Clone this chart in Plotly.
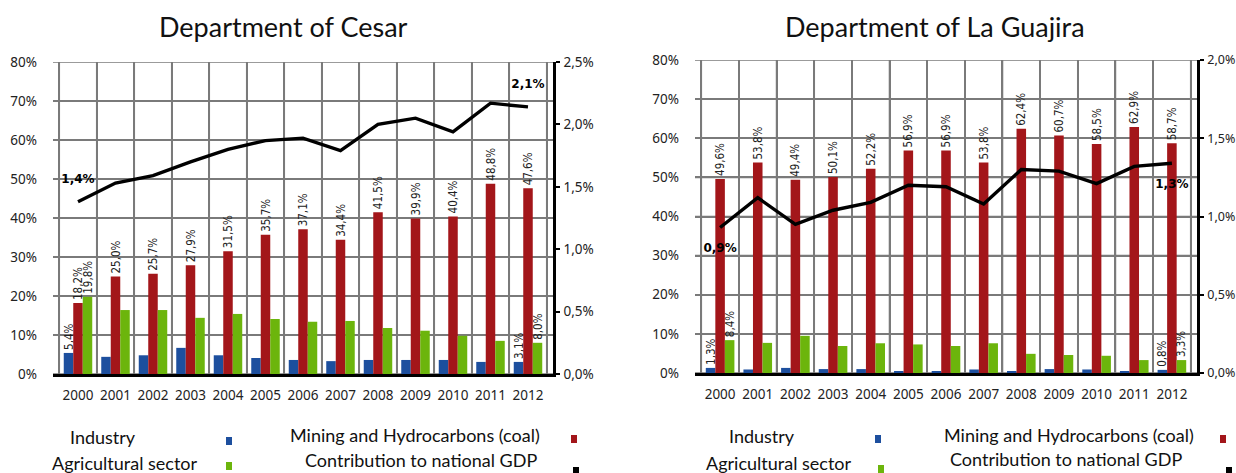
import plotly.graph_objects as go

W, H = 1236, 473

years = [str(y) for y in range(2000, 2013)]

# Department of Cesar (% of departmental GDP)
cesar_industry = [5.4, 4.4, 4.8, 6.7, 4.8, 4.1, 3.6, 3.3, 3.6, 3.6, 3.6, 3.1, 3.1]
cesar_mining = [18.2, 25.0, 25.7, 27.9, 31.5, 35.7, 37.1, 34.4, 41.5, 39.9, 40.4, 48.8, 47.6]
cesar_agri = [19.8, 16.4, 16.4, 14.4, 15.4, 14.1, 13.4, 13.6, 11.8, 11.1, 9.8, 8.5, 8.0]
cesar_gdp = [1.38, 1.53, 1.59, 1.70, 1.80, 1.87, 1.89, 1.79, 2.00, 2.05, 1.94, 2.17, 2.14]

# Department of La Guajira
guaj_industry = [1.3, 0.9, 1.3, 1.0, 1.0, 0.5, 0.5, 0.9, 0.5, 1.0, 0.9, 0.5, 0.8]
guaj_mining = [49.6, 53.8, 49.4, 50.1, 52.2, 56.9, 56.9, 53.8, 62.4, 60.7, 58.5, 62.9, 58.7]
guaj_agri = [8.4, 7.7, 9.5, 6.9, 7.6, 7.3, 6.9, 7.6, 4.9, 4.6, 4.4, 3.3, 3.3]
guaj_gdp = [0.93, 1.12, 0.95, 1.04, 1.09, 1.20, 1.19, 1.08, 1.30, 1.29, 1.21, 1.32, 1.34]

left_ticks = [0, 10, 20, 30, 40, 50, 60, 70, 80]
left_ticktext = ["0%", "10%", "20%", "30%", "40%", "50%", "60%", "70%", "80%"]
cesar_rticks = [0.0, 0.5, 1.0, 1.5, 2.0, 2.5]
cesar_rticktext = ["0,0%", "0,5%", "1,0%", "1,5%", "2,0%", "2,5%"]
guaj_rticks = [0.0, 0.5, 1.0, 1.5, 2.0]
guaj_rticktext = ["0,0%", "0,5%", "1,0%", "1,5%", "2,0%"]

titles = ["Department of Cesar", "Department of La Guajira"]
legend_names = ["Industry", "Mining and Hydrocarbons (coal)", "Agricultural sector", "Contribution to national GDP"]

C_BLUE = "#1d4f9e"
C_RED = "#a3161a"
C_GREEN = "#6cb50c"


def fmt(v):
    return f"{v:.1f}%".replace(".", ",")


def edge_labels(vals):
    return [fmt(v) if i in (0, len(vals) - 1) else "" for i, v in enumerate(vals)]


def px_x(p):
    return p / W


def px_y(p):
    return 1 - p / H


fig = go.Figure()

panels = [
    dict(ind=cesar_industry, mn=cesar_mining, ag=cesar_agri, gdp=cesar_gdp, xa="x", ya="y", ya2="y2",
         gdp_pos=["top center"] + ["middle center"] * 11 + ["top center"], below=False),
    dict(ind=guaj_industry, mn=guaj_mining, ag=guaj_agri, gdp=guaj_gdp, xa="x2", ya="y3", ya2="y4",
         gdp_pos=["bottom center"] + ["middle center"] * 11 + ["bottom center"], below=True),
]

bar_font = dict(family="DejaVu Sans Condensed, DejaVu Sans", size=11.5, color="#222")

for p in panels:
    for vals, color, lab in [(p["ind"], C_BLUE, edge_labels(p["ind"])),
                             (p["mn"], C_RED, [fmt(v) for v in p["mn"]]),
                             (p["ag"], C_GREEN, edge_labels(p["ag"]))]:
        fig.add_trace(go.Bar(
            x=years, y=vals, xaxis=p["xa"], yaxis=p["ya"], marker=dict(color=color, line=dict(width=0)),
            text=lab, textposition="outside", textangle=-90, textfont=bar_font,
            constraintext="none", cliponaxis=False, showlegend=False, hoverinfo="skip",
        ))
    n = len(p["gdp"])
    gdp_text = []
    for i, v in enumerate(p["gdp"]):
        if i in (0, n - 1):
            t = fmt(v)
            gdp_text.append("<br>" + t if p["below"] else t + "<br> ")
        else:
            gdp_text.append("")
    fig.add_trace(go.Scatter(
        x=years, y=p["gdp"], xaxis=p["xa"], yaxis=p["ya2"], mode="lines+text",
        line=dict(color="black", width=3.4), text=gdp_text, textposition=p["gdp_pos"],
        textfont=dict(family="DejaVu Sans", size=12, color="black", weight="bold"),
        cliponaxis=False, showlegend=False, hoverinfo="skip",
    ))

grid_col = "#7a7a7a"
tick_font = dict(family="Noto Sans", size=13.5, color="#222")
tick_font_r = dict(family="Noto Sans", size=12.5, color="#222")

xdom_l = [px_x(53), px_x(553)]
xdom_r = [px_x(695), px_x(1197)]
ydom_l = [px_y(374), px_y(62)]
ydom_r = [px_y(373), px_y(60)]

xcommon = dict(type="category", tickson="boundaries", showgrid=True, gridcolor=grid_col, gridwidth=1.6,
               ticks="", showline=True, linecolor="black", linewidth=3, tickangle=0, automargin=False,
               tickfont=dict(family="Noto Sans", size=13.5, color="#222"), ticklabelstandoff=7, fixedrange=True)
ycommon = dict(range=[0, 80], tickvals=left_ticks, ticktext=left_ticktext, showgrid=True, gridcolor=grid_col,
               gridwidth=1.6, zeroline=False, showline=False, ticks="", tickfont=tick_font,
               ticklabelstandoff=15, automargin=False)
y2common = dict(side="right", showgrid=False, zeroline=False, showline=True, linecolor="black", linewidth=2.5,
                ticks="outside", ticklen=4, tickwidth=2, tickcolor="black",
                ticklabelstandoff=1, automargin=False)

fig.update_layout(
    width=W, height=H, margin=dict(l=0, r=0, t=0, b=0, autoexpand=False),
    paper_bgcolor="white", plot_bgcolor="rgba(0,0,0,0)",
    barmode="group", bargap=0.24, bargroupgap=0,
    showlegend=False,
    xaxis=dict(domain=xdom_l, anchor="y", **xcommon),
    yaxis=dict(domain=ydom_l, anchor="x", **ycommon),
    yaxis2=dict(domain=ydom_l, anchor="x", overlaying="y", range=[0, 2.5], tickvals=cesar_rticks,
                ticktext=cesar_rticktext, tickfont=tick_font, **y2common),
    xaxis2=dict(domain=xdom_r, anchor="y3", **xcommon),
    yaxis3=dict(domain=ydom_r, anchor="x2", **ycommon),
    yaxis4=dict(domain=ydom_r, anchor="x2", overlaying="y3", range=[0, 2.0], tickvals=guaj_rticks,
                ticktext=guaj_rticktext, tickfont=tick_font_r, **y2common),
)

# grid drawn as axis-referenced shapes below the bars (same positions as the axis grid)
for xa, ya in [("x", "y"), ("x2", "y3")]:
    for v in left_ticks:
        fig.add_shape(type="line", xref=f"{xa} domain", yref=ya, x0=0, x1=1, y0=v, y1=v,
                      line=dict(color=grid_col, width=1.6), layer="below")
    for k in range(len(years) + 1):
        fig.add_shape(type="line", xref=xa, yref=f"{ya} domain", x0=k - 0.5, x1=k - 0.5, y0=0, y1=1,
                      line=dict(color=grid_col, width=1.6), layer="below")

title_font = dict(family="Lato", size=27, color="#111")
leg_font = dict(family="Lato", size=18, color="#111")
annots = [
    dict(text=titles[0], x=px_x(283), y=px_y(27)),
    dict(text=titles[1], x=px_x(935), y=px_y(27)),
]
for a in annots:
    fig.add_annotation(xref="paper", yref="paper", xanchor="center", yanchor="middle", showarrow=False,
                       font=title_font, **a)

# custom legends (text + colour swatch) for each panel
legend_layout = [
    # (name index, text centre x, y, swatch x, swatch y, color)
    (0, 103, 437, 229, 441, C_BLUE), (1, 415, 435, 574, 439, C_RED),
    (2, 125, 463, 229, 466, C_GREEN), (3, 421, 460, 576, 471, "black"),
    (0, 762, 436, 878, 439, C_BLUE), (1, 1069, 435, 1223, 439, C_RED),
    (2, 779, 463, 881, 469, C_GREEN), (3, 1066, 459, 1229, 471, "black"),
]
for idx, tx, ty, sx, sy, col in legend_layout:
    fig.add_annotation(xref="paper", yref="paper", x=px_x(tx), y=px_y(ty), text=legend_names[idx],
                       xanchor="center", yanchor="middle", showarrow=False, font=leg_font)
    fig.add_shape(type="rect", xref="paper", yref="paper", x0=px_x(sx - 3), x1=px_x(sx + 3),
                  y0=px_y(sy + 4), y1=px_y(sy - 4), fillcolor=col, line=dict(width=0))

fig.write_html("out.html", post_script="document.body.style.margin='0';",
               config=dict(displayModeBar=False))
